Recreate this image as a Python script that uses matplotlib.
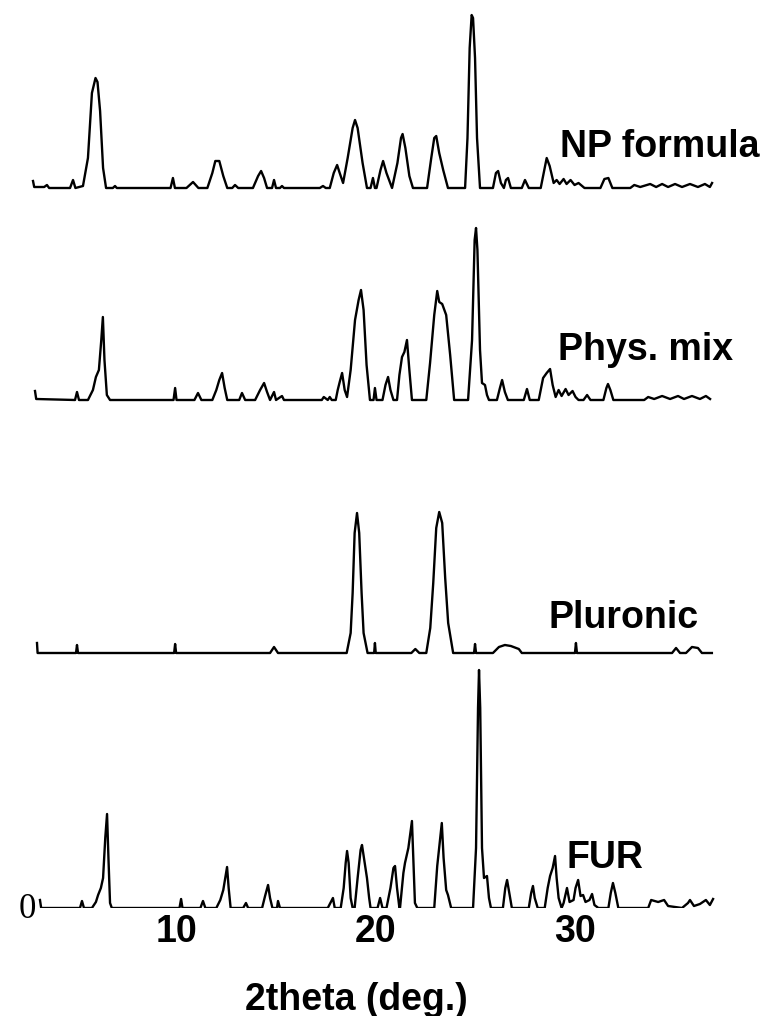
import matplotlib
matplotlib.use("Agg")
import matplotlib.pyplot as plt

# stacked XRD patterns, 2theta (deg) vs intensity (a.u., above each baseline)
np_x = [2.79, 2.85, 3.35, 3.49, 3.6, 4.65, 4.8, 4.92,
        5.30, 5.55, 5.75, 5.93, 6.03, 6.16, 6.31, 6.46, 6.8, 6.91, 7.0,
        9.7, 9.82, 9.92, 10.5, 10.83, 11.1,
        11.55, 11.8, 11.95, 12.15, 12.35, 12.55, 12.8, 12.94, 13.1,
        13.84, 14.1, 14.25, 14.4, 14.55, 14.8, 14.9, 15.0, 15.2, 15.3, 15.4,
        17.2, 17.36, 17.5,
        17.7, 17.9, 18.07, 18.2, 18.37, 18.6, 18.85, 18.97, 19.1, 19.35, 19.57,
        19.75, 19.87, 19.97,
        20.05, 20.25, 20.38, 20.55, 20.83,
        21.1, 21.28, 21.36, 21.5, 21.7, 21.88,
        22.59, 22.8, 22.95, 23.05, 23.2, 23.4, 23.64,
        24.5, 24.62, 24.73, 24.83, 24.9, 25.0, 25.1, 25.25,
        25.9, 26.05, 26.16, 26.3, 26.45, 26.55, 26.66, 26.8,
        27.35, 27.51, 27.7,
        28.3, 28.45, 28.6, 28.75, 28.95, 29.1, 29.25, 29.45, 29.6, 29.8, 30.0, 30.2, 30.5,
        31.3, 31.5, 31.7, 31.9,
        32.8, 33.0, 33.3, 33.8, 34.1, 34.4, 34.7, 35.05, 35.4, 35.8, 36.2, 36.55, 36.8, 36.91]
np_y = [7, 1, 1, 3, 0, 0, 8, 0,
        2, 30, 95, 110, 106, 77, 20, 0, 0, 2, 0,
        0, 10, 0, 0, 6, 0,
        0, 15, 27, 27, 12, 0, 0, 3, 0,
        0, 12, 17, 10, 0, 0, 8, 0, 0, 2, 0,
        0, 2, 0,
        0, 15, 23, 15, 5, 30, 60, 68, 60, 25, 0,
        0, 10, 0,
        0, 18, 27, 15, 0,
        25, 50, 54, 40, 12, 0,
        0, 30, 50, 52, 35, 18, 0,
        0, 50, 140, 173, 170, 130, 50, 0,
        0, 15, 17, 5, 0, 8, 10, 0,
        0, 8, 0,
        0, 15, 30, 22, 5, 8, 4, 9, 4, 8, 3, 5, 0,
        0, 9, 10, 0,
        0, 3, 1, 4, 1, 4, 1, 4, 1, 4, 1, 4, 1, 5]

mix_x = [2.89, 2.95, 4.9, 5.0, 5.1,
         5.55, 5.8, 5.95, 6.1, 6.22, 6.3, 6.38, 6.5, 6.66,
         9.85, 9.93, 10.0, 10.9, 11.08, 11.25,
         11.8, 12.0, 12.15, 12.29, 12.42, 12.55,
         13.15, 13.29, 13.45,
         13.95, 14.2, 14.4, 14.55, 14.7, 14.9, 15.0, 15.3, 15.4,
         17.3, 17.4, 17.6, 17.7, 17.8,
         18.0, 18.1, 18.2, 18.32, 18.45, 18.57,
         18.75, 18.97, 19.15, 19.27, 19.4, 19.55, 19.72,
         19.9, 19.97, 20.05,
         20.35, 20.5, 20.63, 20.75, 20.9,
         21.08, 21.2, 21.33, 21.45, 21.58, 21.7, 21.83,
         22.55, 22.74, 22.95, 23.1, 23.2, 23.35, 23.55, 23.75, 23.95,
         24.65, 24.85, 24.98, 25.05, 25.12, 25.25, 25.35, 25.5, 25.6, 25.7,
         26.1, 26.25, 26.36, 26.5, 26.65,
         27.45, 27.61, 27.75,
         28.2, 28.35, 28.42, 28.6, 28.77, 28.9, 29.05,
         29.2, 29.35, 29.55, 29.7, 29.9, 30.05, 30.2, 30.45, 30.63, 30.8,
         31.45, 31.6, 31.68, 31.8, 31.95,
         33.5, 33.7, 34.0, 34.4, 34.8, 35.2, 35.5, 35.9, 36.3, 36.6, 36.81]
mix_y = [9, 1, 0, 8, 0,
         0, 10, 23, 30, 60, 83, 40, 5, 0,
         0, 12, 0, 0, 7, 0,
         0, 10, 20, 27, 12, 0,
         0, 7, 0,
         0, 10, 17, 8, 0, 8, 0, 4, 0,
         0, 3, 0, 3, 0,
         0, 10, 18, 27, 10, 3,
         30, 80, 100, 110, 90, 35, 0,
         0, 12, 0,
         0, 15, 23, 10, 0,
         0, 25, 43, 48, 60, 30, 0,
         0, 37, 85, 109, 98, 96, 85, 45, 0,
         0, 60, 160, 172, 150, 50, 17, 15, 5, 0,
         0, 12, 20, 8, 0,
         0, 11, 0,
         0, 15, 22, 27, 31, 15, 3,
         10, 4, 11, 5, 9, 3, 0, 0, 5, 0,
         0, 12, 16, 10, 0,
         0, 3, 1, 4, 1, 4, 1, 4, 1, 4, 1]

plu_x = [2.99, 3.02, 4.95, 5.0, 5.05, 9.88, 9.93, 9.98, 14.7, 14.9, 15.1,
         18.55, 18.75, 18.85, 18.95, 19.07, 19.18, 19.3, 19.4, 19.6,
         19.93, 19.97, 20.01, 21.8, 22.0, 22.2,
         22.55, 22.75, 22.9, 23.05, 23.2, 23.35, 23.5, 23.65, 23.9,
         24.95, 25.0, 25.05,
         25.9, 26.2, 26.5, 26.8, 27.2, 27.35,
         30.02, 30.07, 30.12,
         34.9, 35.1, 35.3, 35.6, 35.9, 36.2, 36.4, 36.9]
plu_y = [10, 0, 0, 8, 0, 0, 9, 0, 0, 6, 0,
         0, 20, 60, 120, 140, 120, 60, 20, 0,
         0, 10, 0, 0, 4, 0,
         0, 25, 70, 125, 141, 130, 75, 30, 0,
         0, 9, 0,
         0, 6, 8, 7, 4, 0,
         0, 10, 0,
         0, 5, 0, 0, 6, 5, 0, 0]

fur_x = [3.14, 3.2, 5.15, 5.25, 5.35,
         5.75, 5.95, 6.06, 6.2, 6.31, 6.42, 6.51, 6.58, 6.66, 6.75,
         10.15, 10.23, 10.3, 11.2, 11.33, 11.45,
         12.0, 12.2, 12.35, 12.45, 12.54, 12.62, 12.72,
         13.35, 13.49, 13.6,
         14.3, 14.45, 14.6, 14.7, 14.82, 15.05, 15.1, 15.2,
         17.6, 17.86, 17.95,
         18.25, 18.4, 18.5, 18.57, 18.65, 18.75, 18.85,
         18.95, 19.1, 19.25, 19.32, 19.42, 19.57, 19.68, 19.75,
         20.1, 20.23, 20.35,
         20.55, 20.75, 20.9, 20.98, 21.08, 21.2,
         21.23, 21.4, 21.48, 21.65, 21.78, 21.83, 21.9, 21.98, 22.1,
         22.95, 23.1, 23.25, 23.33, 23.42, 23.55, 23.64, 23.8,
         24.9, 25.05, 25.15, 25.2, 25.26, 25.35, 25.45, 25.6, 25.7, 25.8,
         26.4, 26.52, 26.61, 26.72, 26.85,
         27.7, 27.82, 27.91, 28.0, 28.15,
         28.5, 28.65, 28.77, 28.9, 29.02, 29.1, 29.2, 29.35,
         29.45, 29.62, 29.75, 29.95, 30.05, 30.18, 30.3, 30.43, 30.55, 30.75, 30.88, 31.0, 31.2,
         31.7, 31.82, 31.93, 32.05, 32.2,
         33.7, 33.85, 34.2, 34.5, 34.7, 35.4, 35.7, 35.8, 36.0, 36.3, 36.6, 36.8, 36.96]
fur_y = [8, 0, 0, 7, 0,
         0, 6, 13, 20, 30, 70, 94, 50, 5, 0,
         0, 9, 0, 0, 7, 0,
         0, 8, 18, 30, 41, 20, 0,
         0, 5, 0,
         0, 12, 23, 10, 0, 0, 7, 0,
         0, 10, 0,
         0, 20, 45, 57, 45, 10, 0,
         0, 30, 58, 63, 50, 30, 10, 0,
         0, 10, 0,
         0, 20, 40, 42, 20, 0,
         0, 35, 45, 60, 80, 87, 50, 5, 0,
         0, 42, 70, 85, 50, 18, 13, 0,
         0, 60, 200, 238, 200, 60, 30, 32, 10, 0,
         0, 20, 28, 15, 0,
         0, 15, 22, 10, 0,
         0, 20, 32, 40, 52, 30, 10, 0,
         5, 20, 6, 8, 20, 28, 12, 13, 6, 8, 14, 3, 0,
         0, 15, 25, 15, 0,
         0, 8, 6, 8, 2, 0, 5, 8, 2, 4, 8, 3, 9]

labels = ["NP formula", "Phys. mix", "Pluronic", "FUR"]
xtick_vals = [10, 20, 30]

# vertical offset of each pattern's baseline
offsets = [720, 508, 255, 0]
# where each name sits (2theta, height)
label_pos = [(29.27, 751), (29.17, 548), (28.67, 280), (29.62, 40)]

fig = plt.figure(figsize=(7.67, 10.16), dpi=100)
ax = fig.add_axes([0, 108 / 1016, 1, 908 / 1016])

series = [(np_x, np_y), (mix_x, mix_y), (plu_x, plu_y), (fur_x, fur_y)]
for (xs, ys), off in zip(series, offsets):
    ax.plot(xs, [v + off for v in ys], color="black", lw=1.7,
            solid_joinstyle="round")

bold = dict(family="Liberation Sans", fontweight="bold", fontsize=27)
for name, (lx, ly) in zip(labels, label_pos):
    ax.text(lx, ly, name, ha="left", va="baseline", **bold)

ax.text(2.49, -2, "0", family="Liberation Serif", fontsize=25,
        ha="center", va="center")

ax.set_xlim(1.131, 39.67)
ax.set_ylim(0, 908)
ax.set_xticks(xtick_vals)
ax.set_xticklabels([str(v) for v in xtick_vals], **bold)
ax.tick_params(axis="x", length=0, pad=4)
ax.set_yticks([])
for s in ax.spines.values():
    s.set_visible(False)

fig.text(356 / 767, 1 - 1010 / 1016, "2theta (deg.)", ha="center",
         va="baseline", **bold)

fig.savefig("out.png", dpi=100)
